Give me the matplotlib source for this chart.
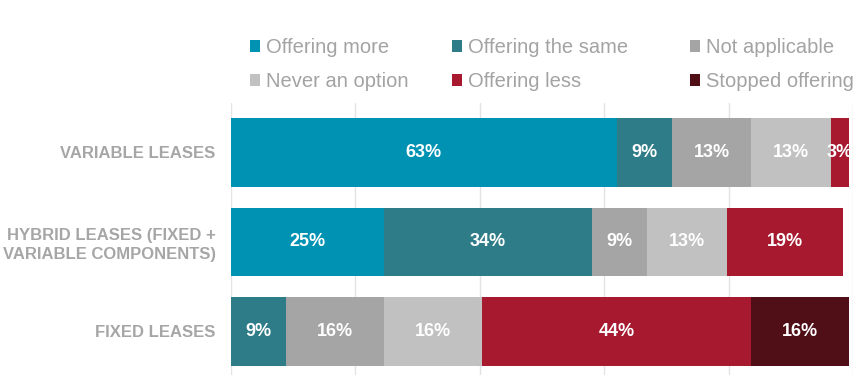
import matplotlib
matplotlib.use("Agg")
import matplotlib.pyplot as plt
import numpy as np

categories = ["VARIABLE LEASES", "HYBRID LEASES (FIXED +\nVARIABLE COMPONENTS)", "FIXED LEASES"]
series = ["Offering more", "Offering the same", "Not applicable",
          "Never an option", "Offering less", "Stopped offering"]
colors = ["#0092B3", "#2F7C89", "#A5A5A5", "#C1C1C1", "#A6192E", "#500E17"]

offering_more = [63, 25, 0]
offering_same = [9, 34, 9]
not_applicable = [13, 9, 16]
never_option = [13, 13, 16]
offering_less = [3, 19, 44]
stopped_offering = [0, 0, 16]

values = [offering_more, offering_same, not_applicable,
          never_option, offering_less, stopped_offering]

plt.rcParams["font.family"] = ["Liberation Sans", "DejaVu Sans"]

W, H = 867, 387
fig = plt.figure(figsize=(W / 100, H / 100), dpi=100)
ax = fig.add_axes([231 / W, 0.031, (853 - 231) / W, 0.703])

y = np.arange(len(categories))
left = np.zeros(len(categories))
handles = []
for name, vals, col in zip(series, values, colors):
    vals = np.array(vals, dtype=float)
    bars = ax.barh(y, vals, left=left, height=0.77, color=col, label=name, zorder=2)
    handles.append(bars)
    for yi, (l, v) in enumerate(zip(left, vals)):
        if v > 0:
            ax.text(l + v / 2, yi, f"{int(v)}%", ha="center", va="center",
                    color="white", fontsize=13, fontweight="bold", zorder=3)
    left += vals

xmax = 101.6
ax.set_xlim(0, xmax)
ax.set_xticks(np.linspace(0, xmax, 6))
ax.set_xticklabels([])
ax.xaxis.grid(True, color="#E3E3E3", linewidth=1, zorder=0)
ax.set_axisbelow(True)
ax.tick_params(length=0, pad=11)
ax.set_ylim(2.486, -0.553)
ax.set_yticks(y)
ax.set_yticklabels(categories, fontsize=12, fontweight="bold", color="#A6A6A6",
                   linespacing=1.3)
for s in ax.spines.values():
    s.set_visible(False)

# legend: three columns, two rows each
columns = [(250, [0, 3]), (452, [1, 4]), (690, [2, 5])]
for x0, idx in columns:
    leg = fig.legend([handles[i] for i in idx], [series[i] for i in idx],
                     loc="center left", bbox_to_anchor=(x0 / W, 1 - 64.5 / H),
                     frameon=False, fontsize=14.5, handlelength=0.5, handleheight=0.5,
                     handletextpad=0.3, labelspacing=0.75,
                     borderaxespad=0, borderpad=0)
    for t in leg.get_texts():
        t.set_color("#A3A3A3")

fig.savefig("out.png", dpi=100)
